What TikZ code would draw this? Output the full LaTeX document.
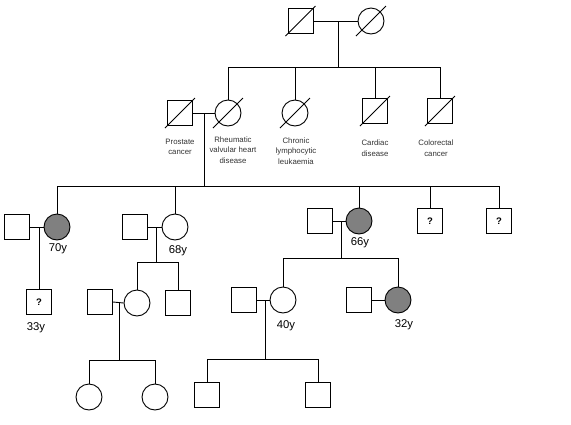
\documentclass[tikz,border=0pt]{standalone}
\usepackage{fontspec}
\setmainfont{Liberation Sans}
\begin{document}
\begin{tikzpicture}[
  x=1pt, y=-1pt,
  line width=0.9pt,
  male/.style={rectangle, draw, line width=0.9pt, minimum size=25pt, inner sep=0pt, fill=white},
  female/.style={circle, draw, line width=0.9pt, minimum size=26pt, inner sep=0pt, fill=white},
  affected/.style={fill=black!50},
  unknown/.style={font=\bfseries\fontsize{9.5}{9.5}\selectfont},
  disease/.style={font=\fontsize{7.8}{10.5}\selectfont, text=black!80, align=center},
  age/.style={font=\fontsize{11.3}{12}\selectfont},
  slash/.style={line width=0.9pt},
]
  \useasboundingbox (0,0) rectangle (571,424);

  % generation I
  \node[male] (gf) at (300.5,21) {};
  \node[female] (gm) at (371,21) {};
  \coordinate (m1) at (338,21);
  \coordinate (s1) at (338,67);
  \draw (gf.east) -- (gm.west);
  \draw (m1) -- (s1);

  % generation II
  \node[male] (sp2) at (180,113) {};
  \node[female] (c2a) at (228,113) {};
  \node[female] (c2b) at (295,113) {};
  \node[male] (c2c) at (375,111) {};
  \node[male] (c2d) at (440,111) {};
  \coordinate (s1a) at (228,67);
  \coordinate (s1b) at (295,67);
  \coordinate (s1c) at (375,67);
  \coordinate (s1d) at (440,67);
  \draw (s1a) -- (s1d);
  \foreach \c/\s in {c2a/s1a, c2b/s1b, c2c/s1c, c2d/s1d}
    \draw (\s) -- (\c.north);
  \draw (sp2.east) -- (c2a.west);
  \foreach \n in {gf, gm, sp2, c2a, c2b, c2c, c2d}
    \draw[slash] ([shift={(-15,15)}]\n.center) -- ([shift={(15,-15)}]\n.center);

  \node[disease] (l2a) at (180,147) {Prostate\\cancer};
  \node[disease] (l2b) at (233,150) {Rheumatic\\valvular heart\\disease};
  \node[disease] (l2c) at (296,151) {Chronic\\lymphocytic\\leukaemia};
  \node[disease] (l2d) at (375,148) {Cardiac\\disease};
  \node[disease] (l2e) at (436,148) {Colorectal\\cancer};

  % generation III
  \coordinate (m2) at (204,113);
  \coordinate (s2) at (204,186);
  \draw (m2) -- (s2);
  \coordinate (s2a) at (57,186);
  \coordinate (s2b) at (175,186);
  \coordinate (s2c) at (359,186);
  \coordinate (s2d) at (430,186);
  \coordinate (s2e) at (499,186);
  \draw (s2a) -- (s2e);
  \node[female, affected] (g3a) at (57,227) {};
  \node[female] (g3b) at (175,227) {};
  \node[female, affected] (g3c) at (359,221) {};
  \node[male, unknown] (g3d) at (430,221) {?};
  \node[male, unknown] (g3e) at (499,221) {?};
  \foreach \c/\s in {g3a/s2a, g3b/s2b, g3c/s2c, g3d/s2d, g3e/s2e}
    \draw (\s) -- (\c.north);
  \node[male] (sp3a) at (17,227) {};
  \node[male] (sp3b) at (135,227) {};
  \node[male] (sp3c) at (320,221) {};
  \draw (sp3a.east) -- (g3a.west);
  \draw (sp3b.east) -- (g3b.west);
  \draw (sp3c.east) -- (g3c.west);
  \node[age] (a3a) at (58,249) {70y};
  \node[age] (a3b) at (178,251) {68y};
  \node[age] (a3c) at (360,243) {66y};

  % generation IV
  \node[male, unknown] (g4a) at (39,302) {?};
  \coordinate (m3a) at (39,227);
  \draw (m3a) -- (g4a.north);
  \node[age] (a4a) at (36,328) {33y};

  \coordinate (m3b) at (156,227);
  \coordinate (s3b) at (156,262);
  \coordinate (s3ba) at (137,262);
  \coordinate (s3bb) at (178,262);
  \draw (m3b) -- (s3b);
  \draw (s3ba) -- (s3bb);
  \node[female] (g4b) at (137,303) {};
  \node[male] (g4c) at (178,303) {};
  \node[male] (sp4b) at (100,302) {};
  \draw (s3ba) -- (g4b.north);
  \draw (s3bb) -- (g4c.north);
  \draw (sp4b.east) -- (g4b.west);

  \coordinate (m3c) at (341,221);
  \coordinate (s3c) at (341,258);
  \coordinate (s3ca) at (283,258);
  \coordinate (s3cb) at (398,258);
  \draw (m3c) -- (s3c);
  \draw (s3ca) -- (s3cb);
  \node[female] (g4d) at (283,300) {};
  \node[female, affected] (g4e) at (398,300) {};
  \node[male] (sp4d) at (244,300) {};
  \node[male] (sp4e) at (359,300) {};
  \draw (s3ca) -- (g4d.north);
  \draw (s3cb) -- (g4e.north);
  \draw (sp4d.east) -- (g4d.west);
  \draw (sp4e.east) -- (g4e.west);
  \node[age] (a4d) at (286,326) {40y};
  \node[age] (a4e) at (404,325) {32y};

  % generation V
  \coordinate (m4b) at (119,302);
  \coordinate (s4b) at (119,360);
  \coordinate (s4ba) at (89,360);
  \coordinate (s4bb) at (155,360);
  \draw (m4b) -- (s4b);
  \draw (s4ba) -- (s4bb);
  \node[female] (g5a) at (89,397) {};
  \node[female] (g5b) at (155,397) {};
  \draw (s4ba) -- (g5a.north);
  \draw (s4bb) -- (g5b.north);

  \coordinate (m4d) at (265,300);
  \coordinate (s4d) at (265,359);
  \coordinate (s4da) at (207,359);
  \coordinate (s4db) at (318,359);
  \draw (m4d) -- (s4d);
  \draw (s4da) -- (s4db);
  \node[male] (g5c) at (207,395) {};
  \node[male] (g5d) at (318,395) {};
  \draw (s4da) -- (g5c.north);
  \draw (s4db) -- (g5d.north);
\end{tikzpicture}
\end{document}
